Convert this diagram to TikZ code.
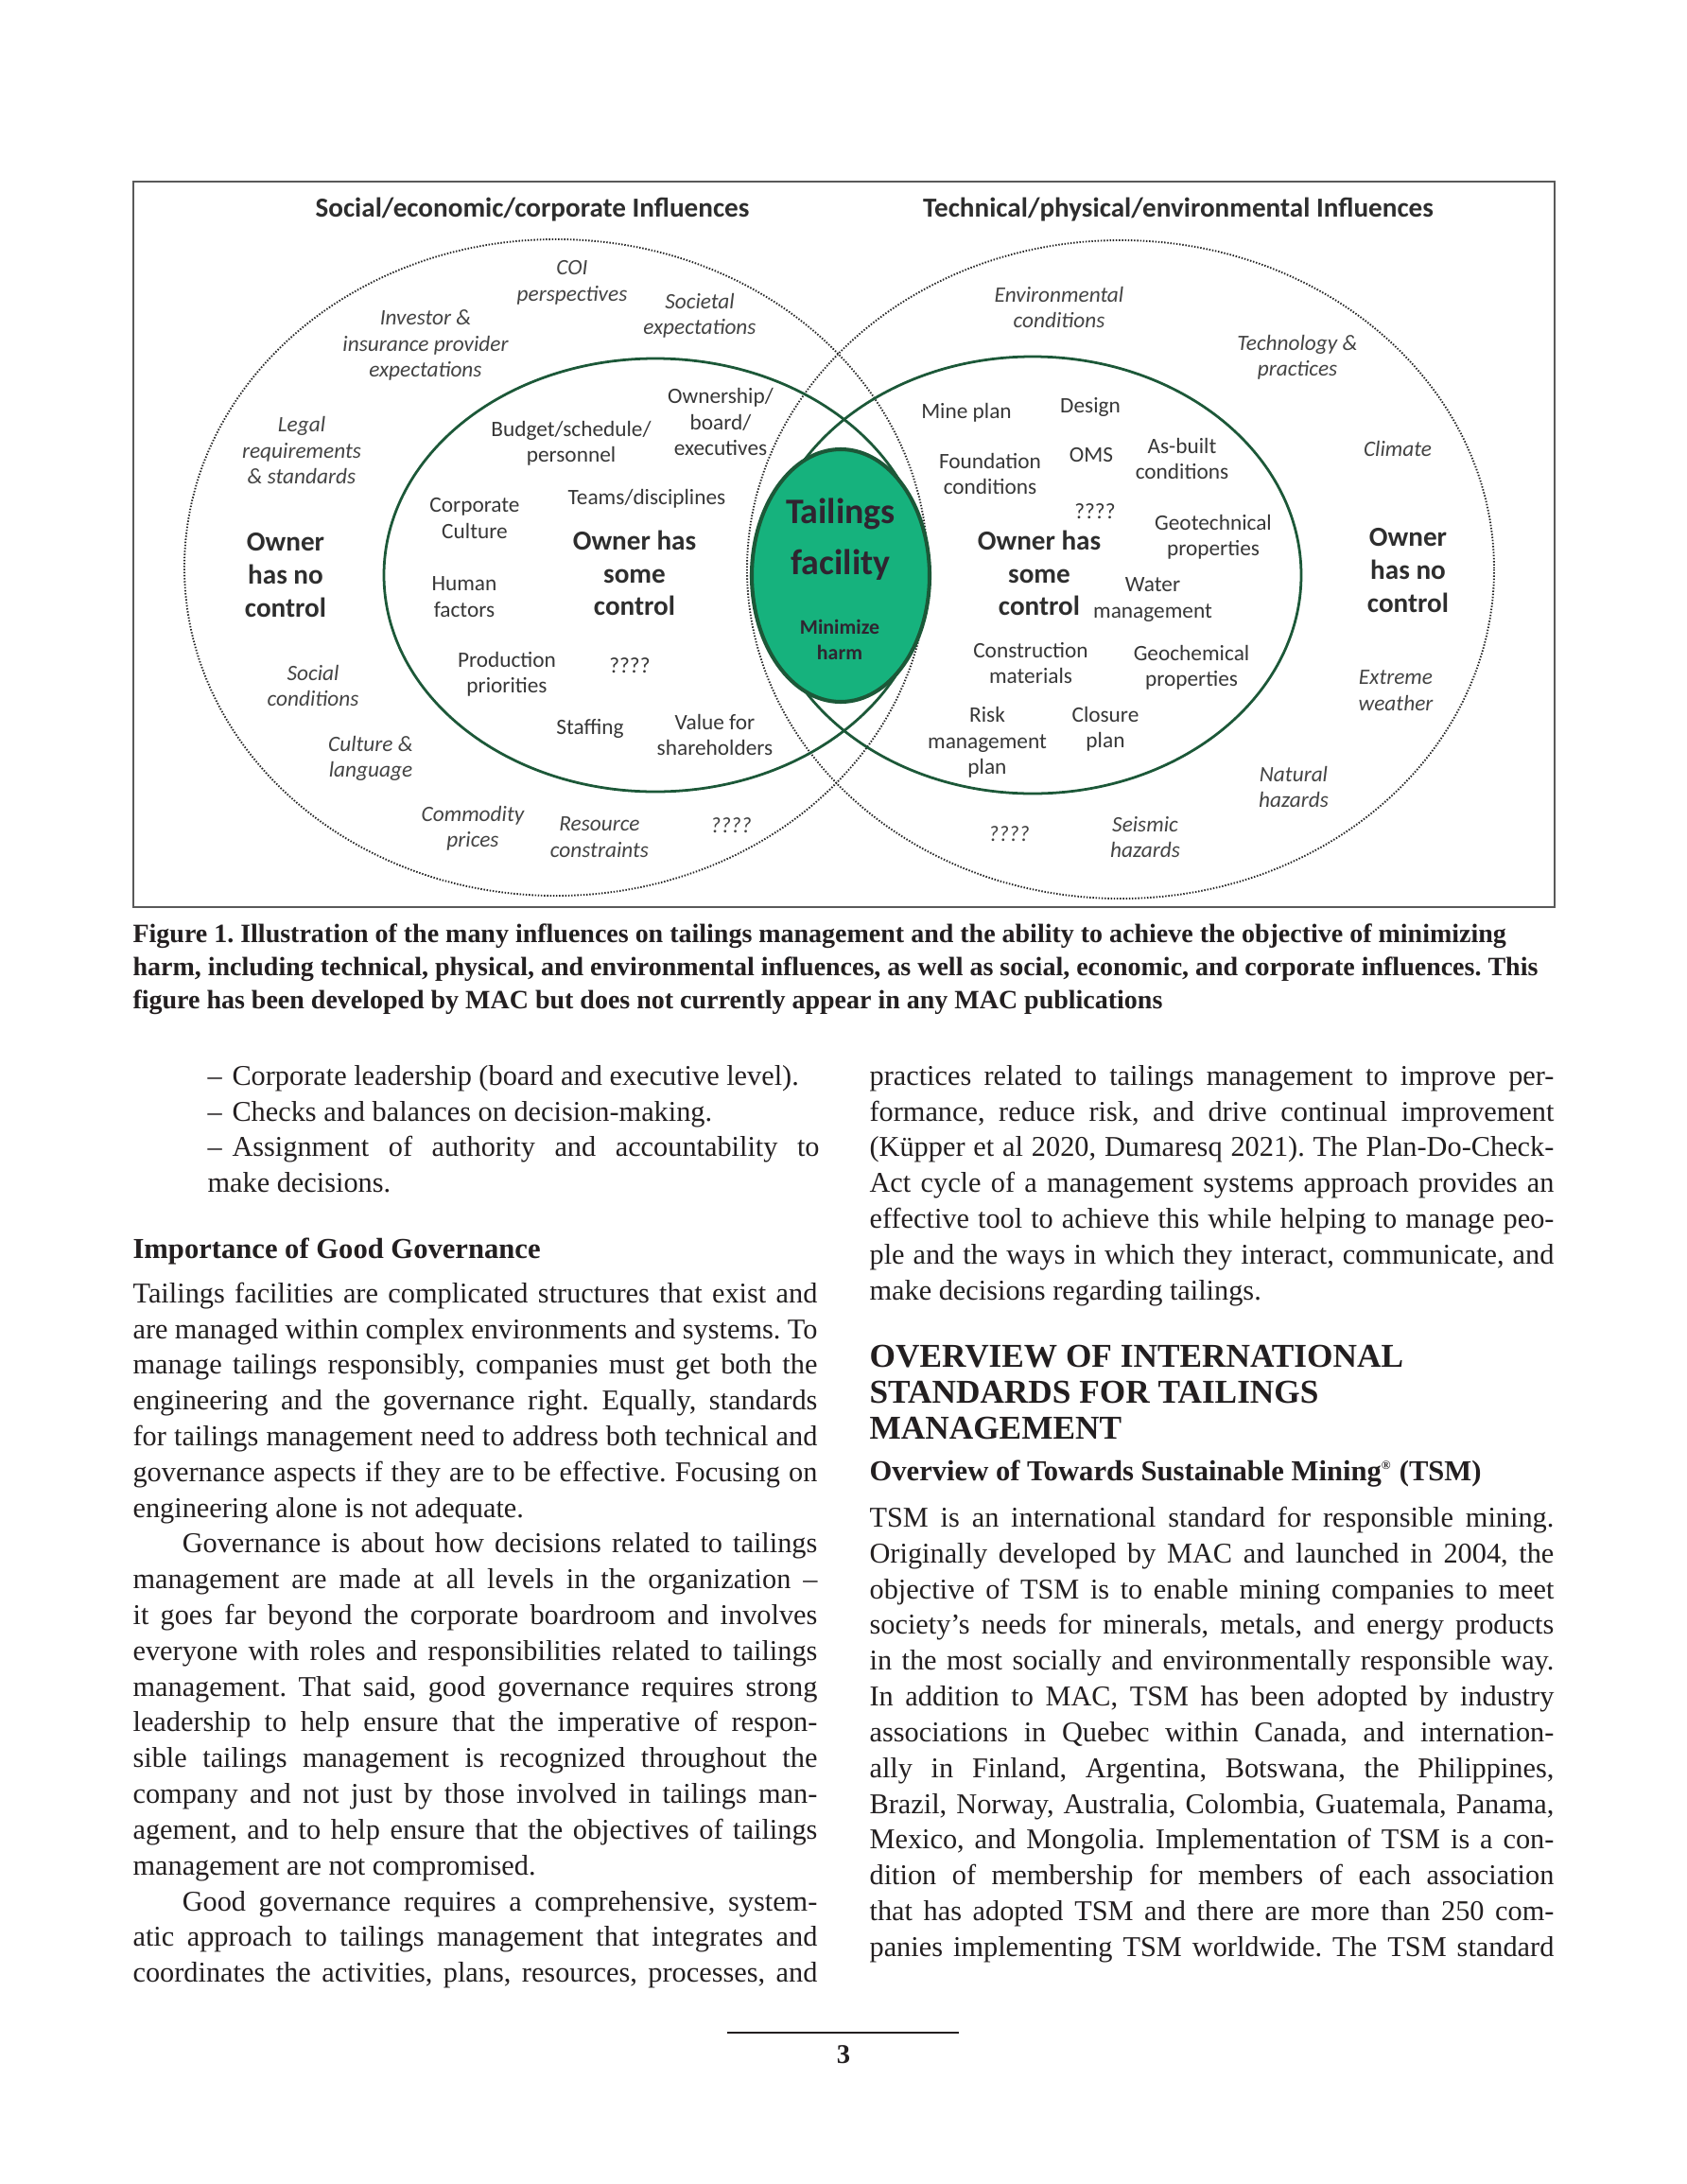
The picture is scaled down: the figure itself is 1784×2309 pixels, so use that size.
\documentclass[tikz,border=0pt]{standalone}
\usepackage{fontspec}
\setmainfont{Liberation Serif}
\newfontfamily\figfont{Carlito}
\definecolor{dkgreen}{RGB}{28,88,56}
\definecolor{tfill}{RGB}{22,178,125}
\definecolor{ttext}{RGB}{48,36,48}
\definecolor{ftext}{RGB}{55,55,55}
\definecolor{itext}{RGB}{68,68,68}
\definecolor{bodyk}{RGB}{35,31,32}
\newcommand\bul{\hangindent=8.9pt\hangafter=1\makebox[8.9pt][l]{–}}
\tolerance=10000
\hyphenpenalty=10000
\exhyphenpenalty=10000
\lineskiplimit=-20pt
\frenchspacing
\begin{document}
\begin{tikzpicture}[x=0.34305pt,y=-0.34305pt,
  sm/.style={font=\figfont\fontsize{8}{9.43}\selectfont, text=ftext, align=center, inner sep=0pt},
  smi/.style={font=\figfont\itshape\fontsize{8}{9.43}\selectfont, text=itext, align=center, inner sep=0pt},
  big/.style={font=\figfont\bfseries\fontsize{10}{11.85}\selectfont, text=black!82, align=center, inner sep=0pt},
  ftitle/.style={font=\figfont\bfseries\fontsize{10}{12}\selectfont, text=black!82, inner sep=0pt},
  dotline/.style={line width=0.65pt, black!85, dash pattern=on 0.5pt off 0.6pt},
  inner/.style={line width=0.95pt, dkgreen},
  body/.style={inner sep=0pt, anchor=north west, text width=248.3pt, align=justify, text=bodyk,
    font=\fontsize{10.4}{12.97}\selectfont},
  capline/.style={inner sep=0pt, anchor=base west, text=bodyk, font=\bfseries\fontsize{9.6}{12}\selectfont},
  head/.style={inner sep=0pt, anchor=base west, text=bodyk, font=\bfseries\fontsize{10.5}{13}\selectfont},
  bighead/.style={inner sep=0pt, anchor=base west, text=bodyk, font=\bfseries\fontsize{12.1}{13}\selectfont}]
\useasboundingbox[fill=white] (0,0) rectangle (1784,2309);

% ---------- figure ----------
\draw[line width=0.75pt, black!65] (141,192) rectangle (1644,959);
\node[ftitle] (tl) at (563,222) {Social/economic/corporate Influences};
\node[ftitle] (tr) at (1246,222) {Technical/physical/environmental Influences};

\draw[dotline] (588,600) ellipse [x radius=393, y radius=347];
\draw[dotline] (1185,602) ellipse [x radius=395, y radius=348];
\draw[inner] (693,608) ellipse [x radius=287, y radius=229];
\draw[inner] (1092,608) ellipse [x radius=284, y radius=231];
\draw[line width=1.4pt, dkgreen, fill=tfill] (889,608.5) ellipse [x radius=94, y radius=133.5];

\node[font=\figfont\bfseries\fontsize{13}{18.5}\selectfont, text=ttext, align=center, inner sep=0pt] (tf) at (889,570) {Tailings\\facility};
\node[font=\figfont\bfseries\fontsize{7.5}{9.26}\selectfont, text=ttext, align=center, inner sep=0pt] (mh) at (888,676) {Minimize\\harm};

% left outer
\node[smi] (coi) at (605,299) {COI\\perspectives};
\node[smi] (inv) at (450,365) {Investor \&\\insurance provider\\expectations};
\node[smi] (soc) at (740,334) {Societal\\expectations};
\node[smi] (leg) at (319,476) {Legal\\requirements\\\& standards};
\node[big] (onl) at (302,608) {Owner\\has no\\control};
\node[smi] (scd) at (331,725) {Social\\conditions};
\node[smi] (cul) at (392,802) {Culture \&\\language};
\node[smi] (com) at (500,876) {Commodity\\prices};
\node[smi] (res) at (634,885) {Resource\\constraints};
\node[smi] (q1) at (773,873) {????};
% left inner
\node[sm] (bud) at (604,469) {Budget/schedule/\\personnel};
\node[sm] (own) at (762,446) {Ownership/\\board/\\executives};
\node[sm] (cor) at (502,548) {Corporate\\Culture};
\node[sm] (tea) at (684,527) {Teams/disciplines};
\node[big] (osl) at (671,606) {Owner has\\some\\control};
\node[sm] (hum) at (491,631) {Human\\factors};
\node[sm] (pro) at (536,713) {Production\\priorities};
\node[sm] (q2) at (666,704) {????};
\node[sm] (sta) at (624,770) {Staffing};
\node[sm] (val) at (756,777) {Value for\\shareholders};
% right inner
\node[sm] (min) at (1022,436) {Mine plan};
\node[sm] (des) at (1153,430) {Design};
\node[sm] (fou) at (1047,501) {Foundation\\conditions};
\node[sm] (oms) at (1154,481) {OMS};
\node[sm] (asb) at (1250,485) {As-built\\conditions};
\node[sm] (q3) at (1158,541) {????};
\node[big] (osr) at (1099,606) {Owner has\\some\\control};
\node[sm] (geo) at (1283,568) {Geotechnical\\properties};
\node[sm] (wat) at (1219,634) {Water\\management};
\node[sm] (con) at (1090,701) {Construction\\materials};
\node[sm] (gch) at (1260,706) {Geochemical\\properties};
\node[sm] (ris) at (1044,785) {Risk\\management\\plan};
\node[sm] (clo) at (1169,771) {Closure\\plan};
% right outer
\node[smi] (env) at (1120,325) {Environmental\\conditions};
\node[smi] (tec) at (1372,378) {Technology \&\\practices};
\node[smi] (cli) at (1478,474) {Climate};
\node[big] (onr) at (1489,603) {Owner\\has no\\control};
\node[smi] (ext) at (1476,730) {Extreme\\weather};
\node[smi] (nat) at (1368,832) {Natural\\hazards};
\node[smi] (sei) at (1211,885) {Seismic\\hazards};
\node[smi] (q4) at (1067,882) {????};

% ---------- caption ----------
\node[capline] (cap1) at (140,996) {Figure 1. Illustration of the many influences on tailings management and the ability to achieve the objective of minimizing};
\node[capline] (cap2) at (140,1031) {harm, including technical, physical, and environmental influences, as well as social, economic, and corporate influences. This};
\node[capline] (cap3) at (140,1066) {figure has been developed by MAC but does not currently appear in any MAC publications};

% ---------- left column ----------
\node[body, text width=221.95pt] (bullets) at (219,1120.2) {\strut\bul Corporate leadership (board and executive level).\par
\bul Checks and balances on decision-making.\par
\bul Assignment of authority and accountability to\linebreak make decisions.};

\node[head] (h1) at (140,1330) {Importance of Good Governance};

\node[body] (lpara) at (140,1350.2) {\strut Tailings facilities are complicated structures that exist and\linebreak
are managed within complex environments and systems. To\linebreak
manage tailings responsibly, companies must get both the\linebreak
engineering and the governance right. Equally, standards\linebreak
for tailings management need to address both technical and\linebreak
governance aspects if they are to be effective. Focusing on\linebreak
engineering alone is not adequate.\par
\hspace*{17.9pt}Governance is about how decisions related to tailings\linebreak
management are made at all levels in the organization –\linebreak
it goes far beyond the corporate boardroom and involves\linebreak
everyone with roles and responsibilities related to tailings\linebreak
management. That said, good governance requires strong\linebreak
leadership to help ensure that the imperative of respon-\linebreak
sible tailings management is recognized throughout the\linebreak
company and not just by those involved in tailings man-\linebreak
agement, and to help ensure that the objectives of tailings\linebreak
management are not compromised.\par
\hspace*{17.9pt}Good governance requires a comprehensive, system-\linebreak
atic approach to tailings management that integrates and\linebreak
coordinates the activities, plans, resources, processes, and\parfillskip=0pt\par};

% ---------- right column ----------
\node[body] (rpara) at (919,1120.2) {\strut practices related to tailings management to improve per-\linebreak
formance, reduce risk, and drive continual improvement\linebreak
(Küpper et al 2020, Dumaresq 2021). The Plan-Do-Check-\linebreak
Act cycle of a management systems approach provides an\linebreak
effective tool to achieve this while helping to manage peo-\linebreak
ple and the ways in which they interact, communicate, and\linebreak
make decisions regarding tailings.};

\node[bighead] (h2a) at (919,1445) {OVERVIEW OF INTERNATIONAL};
\node[bighead] (h2b) at (919,1483) {STANDARDS FOR TAILINGS};
\node[bighead] (h2c) at (919,1521) {MANAGEMENT};
\node[head] (h3) at (919,1565) {Overview of Towards Sustainable Mining\textsuperscript{\fontsize{4.5}{5}\selectfont ®} (TSM)};

\node[body] (tsm) at (919,1587.5) {\strut TSM is an international standard for responsible mining.\linebreak
Originally developed by MAC and launched in 2004, the\linebreak
objective of TSM is to enable mining companies to meet\linebreak
society’s needs for minerals, metals, and energy products\linebreak
in the most socially and environmentally responsible way.\linebreak
In addition to MAC, TSM has been adopted by industry\linebreak
associations in Quebec within Canada, and internation-\linebreak
ally in Finland, Argentina, Botswana, the Philippines,\linebreak
Brazil, Norway, Australia, Colombia, Guatemala, Panama,\linebreak
Mexico, and Mongolia. Implementation of TSM is a con-\linebreak
dition of membership for members of each association\linebreak
that has adopted TSM and there are more than 250 com-\linebreak
panies implementing TSM worldwide. The TSM standard\parfillskip=0pt\par};

% ---------- footer ----------
\coordinate (fl) at (769,2149);
\coordinate (fr) at (1014,2149);
\draw[line width=0.9pt, bodyk] (fl) -- (fr);
\node[inner sep=0pt, anchor=base, text=bodyk, font=\bfseries\fontsize{9.8}{12}\selectfont] (pg) at (892,2181) {3};
\end{tikzpicture}
\end{document}
